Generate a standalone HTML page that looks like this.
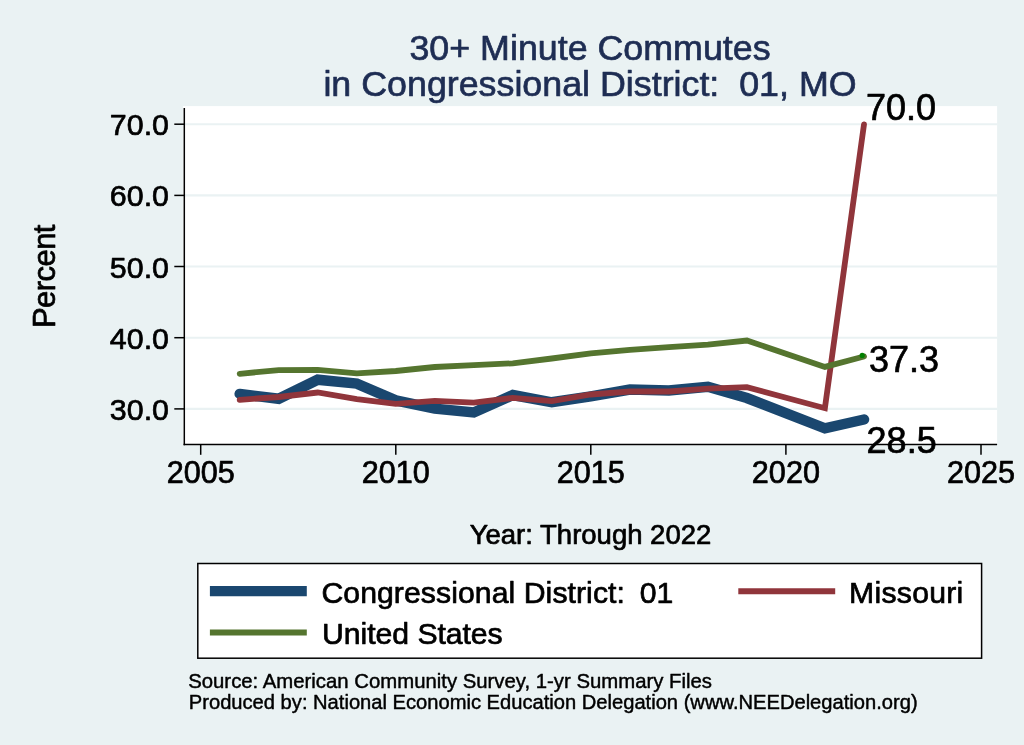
<!DOCTYPE html>
<html><head><meta charset="utf-8"><title>30+ Minute Commutes</title>
<style>
html,body{margin:0;padding:0;background:#eaf2f3;}
svg{display:block;font-family:"Liberation Sans",Arial,Helvetica,sans-serif;}
text{stroke-width:0.7px;stroke-linejoin:round;white-space:pre;}
.k text{stroke:#000;}
.t text{stroke:#1e2d53;}
.n text{stroke-width:0.45px;}
</style></head><body>
<svg width="1024" height="745" viewBox="0 0 1024 745">
<rect x="0" y="0" width="1024" height="745" fill="#eaf2f3"/>
<rect x="182.9" y="106.1" width="814.2" height="339.3" fill="#ffffff"/>
<line x1="184.3" x2="997.1" y1="408.9" y2="408.9" stroke="#eaf2f3" stroke-width="2.1"/><line x1="184.3" x2="997.1" y1="337.7" y2="337.7" stroke="#eaf2f3" stroke-width="2.1"/><line x1="184.3" x2="997.1" y1="266.5" y2="266.5" stroke="#eaf2f3" stroke-width="2.1"/><line x1="184.3" x2="997.1" y1="195.4" y2="195.4" stroke="#eaf2f3" stroke-width="2.1"/><line x1="184.3" x2="997.1" y1="124.2" y2="124.2" stroke="#eaf2f3" stroke-width="2.1"/>
<g class="t" fill="#1e2d53" font-size="35.8" text-anchor="middle">
<text x="590" y="59.6">30+ Minute Commutes</text>
<text x="590" y="95.9" xml:space="preserve">in Congressional District:  01, MO</text>
</g>
<polyline points="239.7,393.9 278.7,398.8 317.7,379.7 356.8,383.6 395.8,400.4 434.8,408.6 473.8,412.5 512.8,395.0 551.8,402.3 590.8,396.4 629.9,389.6 668.9,390.5 707.9,386.8 746.9,398.0 824.9,428.3 864.0,419.5" fill="none" stroke="#1a476f" stroke-width="10.5" stroke-linecap="round" stroke-linejoin="miter"/>
<polyline points="239.7,399.8 278.7,397.0 317.7,392.5 356.8,399.2 395.8,403.9 434.8,400.8 473.8,402.7 512.8,397.9 551.8,401.2 590.8,394.5 629.9,391.5 668.9,391.5 707.9,388.7 746.9,387.1 824.9,408.2 864.0,124.3" fill="none" stroke="#90353b" stroke-width="5.8" stroke-linecap="round" stroke-linejoin="miter"/>
<polyline points="239.7,373.8 278.7,370.1 317.7,369.9 356.8,373.4 395.8,371.0 434.8,367.0 473.8,365.2 512.8,363.3 551.8,358.5 590.8,353.4 629.9,349.9 668.9,347.2 707.9,344.7 746.9,340.5 824.9,366.9 864.0,356.5" fill="none" stroke="#55752f" stroke-width="5.8" stroke-linecap="round" stroke-linejoin="miter"/>
<circle cx="862.2" cy="355.4" r="2.6" fill="#008000"/>
<line x1="184.3" x2="184.3" y1="108.0" y2="445.15" stroke="#000" stroke-width="1.5"/>
<line x1="183.55" x2="997.1" y1="444.4" y2="444.4" stroke="#000" stroke-width="1.5"/>
<line x1="174.3" x2="184.3" y1="408.9" y2="408.9" stroke="#000" stroke-width="1.5"/><line x1="174.3" x2="184.3" y1="337.7" y2="337.7" stroke="#000" stroke-width="1.5"/><line x1="174.3" x2="184.3" y1="266.5" y2="266.5" stroke="#000" stroke-width="1.5"/><line x1="174.3" x2="184.3" y1="195.4" y2="195.4" stroke="#000" stroke-width="1.5"/><line x1="174.3" x2="184.3" y1="124.2" y2="124.2" stroke="#000" stroke-width="1.5"/><line x1="200.7" x2="200.7" y1="444.4" y2="454.8" stroke="#000" stroke-width="1.5"/><line x1="395.8" x2="395.8" y1="444.4" y2="454.8" stroke="#000" stroke-width="1.5"/><line x1="590.8" x2="590.8" y1="444.4" y2="454.8" stroke="#000" stroke-width="1.5"/><line x1="785.9" x2="785.9" y1="444.4" y2="454.8" stroke="#000" stroke-width="1.5"/><line x1="981.0" x2="981.0" y1="444.4" y2="454.8" stroke="#000" stroke-width="1.5"/>
<g class="k" fill="#000">
<text x="169.0" y="419.9" text-anchor="end" font-size="30.4">30.0</text><text x="169.0" y="348.7" text-anchor="end" font-size="30.4">40.0</text><text x="169.0" y="277.5" text-anchor="end" font-size="30.4">50.0</text><text x="169.0" y="206.4" text-anchor="end" font-size="30.4">60.0</text><text x="169.0" y="135.2" text-anchor="end" font-size="30.4">70.0</text>
<text x="200.7" y="482.5" text-anchor="middle" font-size="30.6">2005</text><text x="395.8" y="482.5" text-anchor="middle" font-size="30.6">2010</text><text x="590.8" y="482.5" text-anchor="middle" font-size="30.6">2015</text><text x="785.9" y="482.5" text-anchor="middle" font-size="30.6">2020</text><text x="981.0" y="482.5" text-anchor="middle" font-size="30.6">2025</text>
<text x="865.9" y="119.5" font-size="36">70.0</text>
<text x="869.0" y="371.6" font-size="36">37.3</text>
<text x="866.6" y="452.8" font-size="36">28.5</text>
<text transform="translate(55.0,276.3) rotate(-90)" text-anchor="middle" font-size="31" textLength="103.6" lengthAdjust="spacing">Percent</text>
<text x="590.5" y="544" text-anchor="middle" font-size="27.5">Year: Through 2022</text>
</g>
<rect x="197.8" y="563.5" width="783.8" height="94.7" fill="#ffffff" stroke="#000" stroke-width="1.5"/>
<line x1="209.9" x2="306.8" y1="591.15" y2="591.15" stroke="#1a476f" stroke-width="10.3"/>
<line x1="738.3" x2="835.2" y1="591.2" y2="591.2" stroke="#90353b" stroke-width="5.9"/>
<line x1="209.9" x2="306.8" y1="632.5" y2="632.5" stroke="#55752f" stroke-width="5.9"/>
<g class="k" fill="#000" font-size="30.2">
<text x="321.4" y="603" xml:space="preserve"><tspan textLength="320.4" lengthAdjust="spacing">Congressional District:  </tspan><tspan x="639.8">01</tspan></text>
<text x="849" y="603" textLength="114.3" lengthAdjust="spacing">Missouri</text>
<text x="322.1" y="644" textLength="180.6" lengthAdjust="spacing">United States</text>
</g>
<g class="k n" fill="#000" font-size="20.25">
<text x="188.2" y="688" font-size="20.34">Source: American Community Survey, 1-yr Summary Files</text>
<text x="188.8" y="709.2" font-size="20.15">Produced by: National Economic Education Delegation (www.NEEDelegation.org)</text>
</g>
</svg>
</body></html>
